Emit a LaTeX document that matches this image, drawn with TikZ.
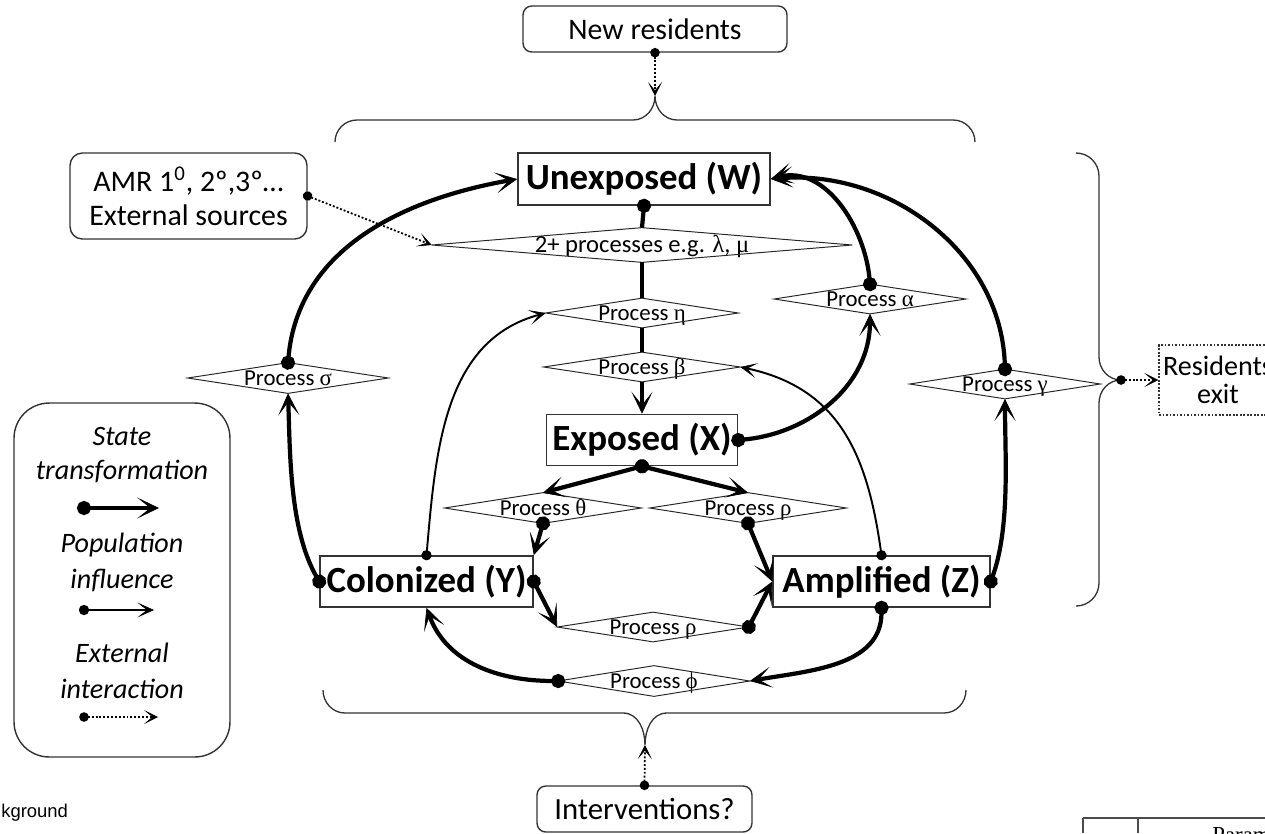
\documentclass[tikz,border=0pt]{standalone}
\usepackage{fontspec}
\setmainfont{Carlito}
\newfontfamily\grk{Liberation Serif}
\newfontfamily\arialf{Liberation Sans}
\usetikzlibrary{arrows.meta}
\tikzset{
  sbox/.style={draw=black!80, line width=0.9pt, rectangle, inner sep=0pt, font=\fontsize{21}{25}\selectfont\bfseries},
  rbox/.style={draw=black!80, line width=0.8pt, rounded corners=5pt, inner sep=0pt, align=center, font=\fontsize{17}{19.5}\selectfont},
  proc/.style={rectangle, inner sep=0pt, text height=10.5pt, text depth=1.5pt, font=\fontsize{13}{15}\selectfont},
  diam/.style={draw=black!85, line width=0.55pt},
  brace/.style={draw=black!80, line width=0.75pt},
  legtxt/.style={inner sep=0pt, font=\fontsize{16}{18}\selectfont\itshape},
  stt/.style={line width=2.4pt, shorten <=-4pt, {Circle[length=8pt]}-{Stealth[length=12.5pt,width=12pt,inset=7.5pt,line width=0.4pt]}},
  sttd/.style={line width=2.4pt, shorten <=-4pt, {Circle[length=8pt]}-},
  sttn/.style={line width=2.4pt},
  stta/.style={line width=2.4pt, -{Stealth[length=12.5pt,width=12pt,inset=7.5pt,line width=0.4pt]}},
  popi/.style={line width=1.1pt, shorten <=-2.9pt, {Circle[length=5.8pt]}-{Stealth[length=9.5pt,width=8.5pt,inset=5.5pt,line width=0.3pt]}},
  extl/.style={line width=1pt, dash pattern=on 1.1pt off 1.1pt, shorten <=-2.7pt, {Circle[length=5.4pt]}-{Stealth[length=8pt,width=8pt,inset=4.8pt,line width=0.3pt]}},
}
\begin{document}
\begin{tikzpicture}[x=0.02cm, y=-0.02cm]
\useasboundingbox (0,0) rectangle (1265,833);
\clip (0,0) rectangle (1265,833);

% ---------- nodes ----------
\node[rbox, minimum width=5.28cm, minimum height=0.92cm] (newres) at (655,29) {New residents};
\node[sbox, minimum width=5.04cm, minimum height=1.04cm] (W) at (644,179) {Unexposed (W)};
\node[rbox, rounded corners=7pt, minimum width=4.74cm, minimum height=1.72cm] (amr) at (188.5,196) {AMR 1\textsuperscript{0}, 2º,3º…\\External sources};
\node[proc, minimum width=8.4cm, minimum height=0.68cm, font=\fontsize{14}{16}\selectfont] (two) at (642,245) {2+ processes e.g. {\grk λ}, {\grk μ}};
\node[proc, minimum width=3.84cm, minimum height=0.58cm] (eta) at (642,313) {Process {\grk η}};
\node[proc, minimum width=3.92cm, minimum height=0.58cm] (beta) at (642,367) {Process {\grk β}};
\node[proc, minimum width=3.82cm, minimum height=0.58cm] (alpha) at (870,299) {Process {\grk α}};
\node[proc, minimum width=4.0cm, minimum height=0.6cm] (sigma) at (288,378) {Process {\grk σ}};
\node[proc, minimum width=3.8cm, minimum height=0.58cm] (gamma) at (1005,384) {Process {\grk γ}};
\node[sbox, minimum width=3.82cm, minimum height=1.02cm] (X) at (642,440) {Exposed (X)};
\node[proc, minimum width=3.92cm, minimum height=0.6cm] (theta) at (543,508) {Process {\grk θ}};
\node[proc, minimum width=3.92cm, minimum height=0.6cm] (rhoa) at (748,508) {Process {\grk ρ}};
\node[sbox, minimum width=4.26cm, minimum height=1.02cm] (Y) at (426.5,581.5) {Colonized (Y)};
\node[sbox, minimum width=4.34cm, minimum height=1.02cm] (Z) at (881.5,581.5) {Amplified (Z)};
\node[proc, minimum width=3.82cm, minimum height=0.58cm] (rhob) at (653,627) {Process {\grk ρ}};
\node[proc, minimum width=3.82cm, minimum height=0.6cm] (phi) at (654,681) {Process {\grk ϕ}};
\node[rbox, minimum width=4.3cm, minimum height=0.92cm, font=\fontsize{17.5}{20}\selectfont] (interv) at (644.5,809) {Interventions?};
\node[draw=black!80, line width=0.8pt, dash pattern=on 1pt off 1pt, inner sep=0pt, align=center,
      minimum width=2.36cm, minimum height=1.4cm, font=\fontsize{16}{16}\selectfont] (exit) at (1218,380) {Residents\\exit};

% diamonds
\foreach \n in {two,eta,beta,alpha,sigma,gamma,theta,rhoa,rhob,phi}
  \draw[diam] (\n.west) -- (\n.north) -- (\n.east) -- (\n.south) -- cycle;

% ---------- braces ----------
\coordinate (tcusp) at (655,96);
\coordinate (bcusp) at (645,745);
\coordinate (rcusp) at (1121,380);
\draw[brace] (335,142) to[out=90,in=180] (357,120) -- (633,120) to[out=0,in=-90] (tcusp)
             to[out=-90,in=180] (677,120) -- (953,120) to[out=0,in=90] (975,142);
\draw[brace] (323,690) to[out=-90,in=180] (345,713) -- (623,713) to[out=0,in=90] (bcusp)
             to[out=90,in=180] (667,713) -- (944,713) to[out=0,in=-90] (966,690);
\draw[brace] (1076,153) to[out=0,in=90] (1099,176) -- (1099,357) to[out=-90,in=180] (rcusp)
             to[out=180,in=90] (1099,403) -- (1099,583) to[out=-90,in=0] (1076,606);

% ---------- state transformations ----------
\draw[sttd] (W.south) -- (two.north);
\draw[sttn] (two.south) -- (eta.north);
\draw[sttn] (eta.south) -- (beta.north);
\draw[stta] (beta.south) -- (X.north);

\draw[stt] (X.east) to[out=5,in=-90] (alpha.south);
\draw[stt] (alpha.north) to[out=95,in=15] (W.east);
\draw[stt] (gamma.north) to[out=92,in=5] (W.east);
\draw[stt] (Z.east) to[out=70,in=-90,looseness=0.8] (gamma.south);
\draw[stt] (sigma.north) to[out=85,in=190] (W.west);
\draw[stt] (Y.west) to[out=120,in=-88,looseness=0.8] (sigma.south);

\draw[stt] (X.south) -- (theta.north);
\draw[stt] (X.south) -- (rhoa.north);
\draw[stt] (theta.south) -- (Y.north east);
\draw[stt] (rhoa.south) -- (Z.west);
\draw[stt] (Y.east) -- (rhob.west);
\draw[stt] (rhob.east) -- (Z.west);
\draw[stt] (Z.south) to[out=-90,in=10] (phi.east);
\draw[stt] (phi.west) to[out=180,in=-70] (Y.south);

% ---------- population influence ----------
\draw[popi] (Y.north) to[out=85,in=195] (eta.west);
\draw[popi] (Z.north) to[out=98,in=-12,looseness=1.1] (beta.east);

% ---------- external interactions ----------
\draw[extl] (amr.east) -- (two.west);
\draw[extl] (newres.south) -- (tcusp);
\draw[extl] (interv.north) -- (bcusp);
\draw[extl] (rcusp) -- (exit.west);

% ---------- legend ----------
\node[draw=black!80, line width=0.8pt, rounded corners=20pt, minimum width=4.32cm, minimum height=7.08cm] (legend) at (122,580) {};
\node[legtxt] (lg1) at (122,436) {State};
\node[legtxt] (lg2) at (122,471) {transformation};
\node[legtxt] (lg3) at (122,545) {Population};
\node[legtxt] (lg4) at (122,580) {influence};
\node[legtxt] (lg5) at (122,653) {External};
\node[legtxt] (lg6) at (122,689) {interaction};
\coordinate (la1) at (84,508); \coordinate (lb1) at (159,508);
\coordinate (la2) at (84,610); \coordinate (lb2) at (154,610);
\coordinate (la3) at (84,717); \coordinate (lb3) at (158,717);
\draw[stt] (la1) -- (lb1);
\draw[popi] (la2) -- (lb2);
\draw[extl] (la3) -- (lb3);

% ---------- cropped fragments at the edges ----------
\node[anchor=west, inner sep=0pt, font=\arialf\fontsize{10.5}{12}\selectfont] (frag) at (1,813) {kground};
\coordinate (ta) at (1083,818); \coordinate (tb) at (1265,818);
\draw[line width=0.6pt, black!70] (ta) -- (tb);
\draw[line width=0.6pt, black!70] (1083,818) -- (1083,833);
\draw[line width=0.6pt, black!70] (1138,818) -- (1138,833);
\node[anchor=north west, inner sep=0pt, font=\grk\fontsize{13}{15}\selectfont] (param) at (1212,827) {Parameter};
\end{tikzpicture}
\end{document}
